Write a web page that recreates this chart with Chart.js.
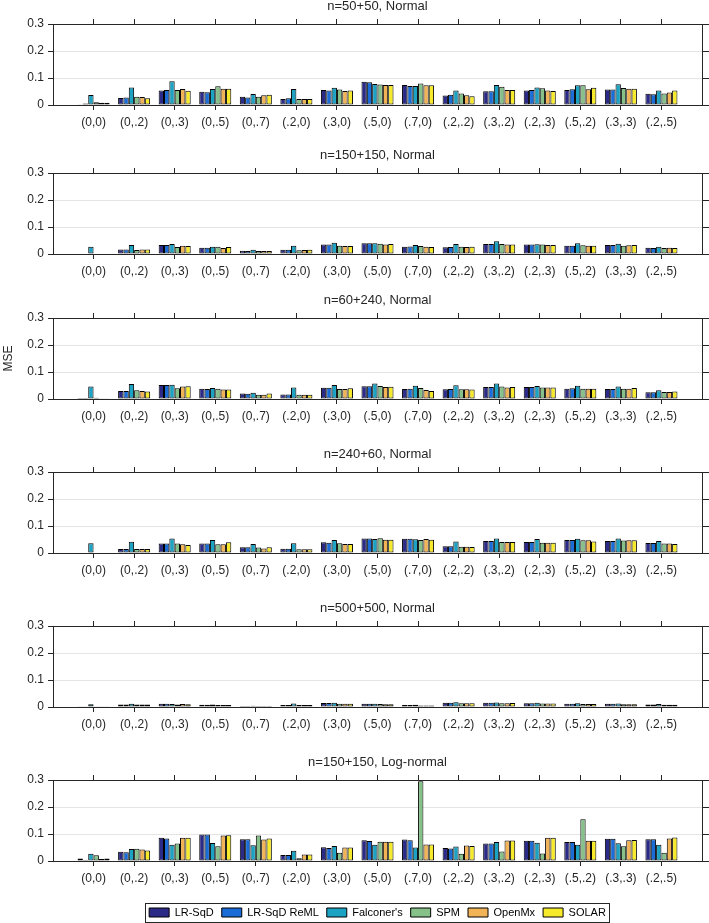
<!DOCTYPE html>
<html>
<head>
<meta charset="utf-8">
<title>MSE</title>
<script src="https://cdn.jsdelivr.net/npm/chart.js@4.4.1/dist/chart.umd.min.js"></script>
<style>
    html, body { margin: 0; padding: 0; background: #fff; width: 709px; height: 923px; overflow: hidden; }
    .panel { position: absolute; left: 0; width: 709px; }
    canvas { display: block; }
</style>
</head>
<body>
<div id="Figura"></div>
<script>

// categorias (h2, c2) y series
const Categories = ['(0,0)', '(0,.2)', '(0,.3)', '(0,.5)', '(0,.7)', '(.2,0)', '(.3,0)', '(.5,0)', '(.7,0)', '(.2,.2)', '(.3,.2)', '(.2,.3)', '(.5,.2)', '(.3,.3)', '(.2,.5)'];
const SeriesNames = ['LR-SqD', 'LR-SqD ReML', "Falconer's", 'SPM', 'OpenMx', 'SOLAR'];
const PanelTitles = ['n=50+50, Normal', 'n=150+150, Normal', 'n=60+240, Normal', 'n=240+60, Normal', 'n=500+500, Normal', 'n=150+150, Log-normal'];
const YTicks = [0, 0.1, 0.2, 0.3];

// MSE, una fila por serie (mismo orden que SeriesNames)
const Mse50x50 = [
    [0.003, 0.026, 0.054, 0.049, 0.031, 0.022, 0.056, 0.086, 0.074, 0.035, 0.051, 0.054, 0.056, 0.057, 0.042],
    [0.006, 0.028, 0.056, 0.047, 0.028, 0.025, 0.054, 0.084, 0.070, 0.038, 0.051, 0.056, 0.058, 0.057, 0.040],
    [0.037, 0.065, 0.088, 0.059, 0.041, 0.059, 0.064, 0.078, 0.070, 0.054, 0.074, 0.065, 0.073, 0.077, 0.054],
    [0.010, 0.031, 0.056, 0.069, 0.031, 0.022, 0.057, 0.076, 0.080, 0.043, 0.068, 0.062, 0.073, 0.063, 0.043],
    [0.008, 0.030, 0.059, 0.060, 0.036, 0.022, 0.052, 0.074, 0.073, 0.036, 0.056, 0.054, 0.058, 0.060, 0.046],
    [0.008, 0.025, 0.053, 0.060, 0.038, 0.022, 0.054, 0.074, 0.073, 0.032, 0.056, 0.052, 0.064, 0.060, 0.054]
];
const Mse150x150 = [
    [0.002, 0.017, 0.033, 0.023, 0.012, 0.016, 0.035, 0.040, 0.027, 0.025, 0.037, 0.035, 0.031, 0.033, 0.023],
    [0.002, 0.017, 0.033, 0.023, 0.011, 0.016, 0.035, 0.040, 0.028, 0.026, 0.037, 0.035, 0.031, 0.033, 0.022],
    [0.027, 0.033, 0.037, 0.027, 0.016, 0.031, 0.042, 0.040, 0.033, 0.037, 0.047, 0.036, 0.040, 0.038, 0.027],
    [0.002, 0.015, 0.026, 0.027, 0.011, 0.014, 0.031, 0.038, 0.030, 0.027, 0.037, 0.035, 0.032, 0.031, 0.022],
    [0.002, 0.017, 0.031, 0.022, 0.011, 0.015, 0.030, 0.035, 0.027, 0.026, 0.035, 0.033, 0.031, 0.032, 0.023],
    [0.002, 0.017, 0.030, 0.026, 0.011, 0.016, 0.030, 0.037, 0.026, 0.027, 0.035, 0.033, 0.031, 0.033, 0.022]
];
const Mse60x240 = [
    [0.004, 0.030, 0.052, 0.038, 0.020, 0.017, 0.042, 0.047, 0.037, 0.036, 0.044, 0.044, 0.038, 0.037, 0.025],
    [0.004, 0.030, 0.052, 0.037, 0.019, 0.017, 0.042, 0.047, 0.038, 0.037, 0.044, 0.044, 0.040, 0.037, 0.025],
    [0.046, 0.056, 0.053, 0.041, 0.023, 0.043, 0.052, 0.057, 0.049, 0.051, 0.057, 0.048, 0.049, 0.046, 0.032],
    [0.005, 0.032, 0.040, 0.038, 0.016, 0.016, 0.037, 0.048, 0.041, 0.036, 0.046, 0.043, 0.038, 0.038, 0.026],
    [0.003, 0.030, 0.046, 0.035, 0.016, 0.016, 0.037, 0.044, 0.033, 0.036, 0.043, 0.043, 0.038, 0.038, 0.026],
    [0.003, 0.028, 0.047, 0.035, 0.020, 0.016, 0.040, 0.045, 0.030, 0.035, 0.044, 0.043, 0.038, 0.041, 0.028]
];
const Mse240x60 = [
    [0.002, 0.015, 0.035, 0.035, 0.021, 0.016, 0.040, 0.054, 0.053, 0.025, 0.044, 0.041, 0.048, 0.044, 0.037],
    [0.002, 0.015, 0.035, 0.035, 0.021, 0.016, 0.038, 0.054, 0.053, 0.025, 0.044, 0.041, 0.048, 0.044, 0.037],
    [0.036, 0.042, 0.054, 0.048, 0.033, 0.036, 0.048, 0.052, 0.051, 0.043, 0.054, 0.052, 0.053, 0.054, 0.044],
    [0.002, 0.015, 0.035, 0.032, 0.020, 0.014, 0.036, 0.055, 0.048, 0.023, 0.041, 0.038, 0.047, 0.046, 0.035],
    [0.002, 0.015, 0.032, 0.032, 0.017, 0.014, 0.033, 0.049, 0.052, 0.023, 0.041, 0.038, 0.047, 0.047, 0.035],
    [0.002, 0.015, 0.030, 0.040, 0.021, 0.014, 0.033, 0.049, 0.049, 0.022, 0.041, 0.038, 0.043, 0.047, 0.033]
];
const Mse500x500 = [
    [0.001, 0.009, 0.012, 0.008, 0.004, 0.007, 0.015, 0.012, 0.007, 0.016, 0.016, 0.014, 0.012, 0.012, 0.009],
    [0.001, 0.009, 0.012, 0.008, 0.004, 0.007, 0.015, 0.012, 0.007, 0.016, 0.016, 0.014, 0.012, 0.012, 0.009],
    [0.010, 0.012, 0.011, 0.009, 0.005, 0.013, 0.016, 0.012, 0.008, 0.018, 0.017, 0.016, 0.014, 0.013, 0.011],
    [0.001, 0.009, 0.009, 0.007, 0.004, 0.007, 0.012, 0.011, 0.006, 0.014, 0.014, 0.013, 0.011, 0.010, 0.008],
    [0.001, 0.009, 0.011, 0.007, 0.004, 0.007, 0.012, 0.010, 0.006, 0.014, 0.014, 0.013, 0.011, 0.010, 0.008],
    [0.001, 0.009, 0.010, 0.007, 0.004, 0.007, 0.012, 0.010, 0.006, 0.014, 0.015, 0.013, 0.011, 0.010, 0.008]
];
const Mse150x150Log = [
    [0.009, 0.034, 0.086, 0.098, 0.081, 0.022, 0.051, 0.077, 0.080, 0.048, 0.065, 0.075, 0.070, 0.082, 0.081],
    [0.004, 0.032, 0.083, 0.098, 0.081, 0.022, 0.048, 0.074, 0.077, 0.046, 0.065, 0.075, 0.070, 0.082, 0.081],
    [0.027, 0.044, 0.060, 0.067, 0.058, 0.038, 0.056, 0.060, 0.050, 0.054, 0.070, 0.068, 0.060, 0.066, 0.060],
    [0.021, 0.045, 0.065, 0.055, 0.094, 0.010, 0.031, 0.071, 0.295, 0.027, 0.035, 0.028, 0.155, 0.055, 0.031],
    [0.007, 0.043, 0.086, 0.094, 0.080, 0.024, 0.050, 0.071, 0.061, 0.057, 0.076, 0.086, 0.075, 0.077, 0.083],
    [0.009, 0.039, 0.086, 0.095, 0.083, 0.024, 0.050, 0.071, 0.061, 0.056, 0.076, 0.086, 0.075, 0.078, 0.087]
];

const PanelData = [Mse50x50, Mse150x150, Mse60x240, Mse240x60, Mse500x500, Mse150x150Log];

// estilos
const Colores = ['#2c2a87', '#1a6cd6', '#1ca3c4', '#86c18a', '#f1b356', '#f6ea2a'];
const Ink = '#262626';
const Fuente = "'Liberation Sans', Arial, Helvetica, sans-serif";
const PanelTops = [24, 173, 318, 472, 626, 780];   // borde superior del area de graficos
const PlotH = 81;

// etiquetas con un hueco vacio a cada lado, como el eje de matlab (0..16)
const Labels = [''].concat(Categories, ['']);
const EsBorde = (ctx) => ctx.index === 0 || ctx.index === Labels.length - 1;

const LegendFrame = {
    id: 'legendFrame',
    afterDraw(chart) {
        const lg = chart.legend;
        if (!lg || !lg.legendHitBoxes || !lg.legendHitBoxes.length) return;
        const hb = lg.legendHitBoxes;
        const l = Math.min(...hb.map(b => b.left)) - 4;
        const r = Math.max(...hb.map(b => b.left + b.width)) + 3;
        const t = Math.min(...hb.map(b => b.top)) - 4;
        const bt = Math.max(...hb.map(b => b.top + b.height)) + 4;
        const ctx = chart.ctx;
        ctx.save();
        ctx.strokeStyle = Ink;
        ctx.lineWidth = 1;
        ctx.strokeRect(Math.round(l) + 0.5, Math.round(t) + 0.5, Math.round(r - l), Math.round(bt - t));
        ctx.restore();
    }
};

const Charts = [];

const InitPanel = (i) => {
    const esUltimo = i === PanelData.length - 1;
    const xH = esUltimo ? 38 : 30;
    const alto = esUltimo ? 172 : 145;
    const legendH = esUltimo ? 29 : 0;
    const padBottom = alto - 24 - PlotH - xH - legendH;

    const div = document.createElement('div');
    div.className = 'panel';
    div.style.top = (PanelTops[i] - 24) + 'px';
    div.style.height = alto + 'px';
    const cv = document.createElement('canvas');
    cv.width = 709;
    cv.height = alto;
    div.appendChild(cv);
    document.getElementById('Figura').appendChild(div);

    const datasets = SeriesNames.map((name, s) => ({
        label: name,
        data: [null].concat(PanelData[i][s], [null]),
        backgroundColor: Colores[s],
        borderColor: '#000',
        borderWidth: 1,
        borderSkipped: false,
        categoryPercentage: 0.79,
        barPercentage: 1
    }));

    const ejeX = (pos) => ({
        type: 'category',
        position: pos,
        offset: false,
        grid: { offset: false, drawOnChartArea: false, drawTicks: true, tickLength: 5, tickColor: (ctx) => EsBorde(ctx) ? 'rgba(0,0,0,0)' : Ink },
        border: { color: Ink, width: 1 },
        ticks: {
            display: pos === 'bottom',
            autoSkip: false, maxRotation: 0, minRotation: 0, padding: 5,
            color: Ink, font: { family: Fuente, size: 12 }
        },
        afterFit: (scale) => { scale.height = pos === 'bottom' ? xH : 6; }
    });

    Charts[i] = new Chart(cv, {
        type: 'bar',
        data: { labels: Labels, datasets: datasets },
        plugins: esUltimo ? [LegendFrame] : [],
        options: {
            responsive: false,
            animation: false,
            events: [],
            layout: { padding: { left: 0, right: 0, top: 0, bottom: padBottom } },
            plugins: {
                tooltip: { enabled: false },
                title: {
                    display: true,
                    text: PanelTitles[i],
                    fullSize: false,
                    color: Ink,
                    font: { family: Fuente, size: 13, weight: 'normal', lineHeight: 1 },
                    padding: { top: 0, bottom: 5 }
                },
                legend: {
                    display: esUltimo,
                    position: 'bottom',
                    fullSize: false,
                    labels: {
                        color: '#000',
                        font: { family: Fuente, size: 11 },
                        boxWidth: 20,
                        boxHeight: 9,
                        padding: 8
                    }
                }
            },
            scales: {
                x: ejeX('bottom'),
                xTop: ejeX('top'),
                y: {
                    min: 0,
                    max: 0.3,
                    position: 'left',
                    ticks: {
                        stepSize: 0.1,
                        padding: 4,
                        color: Ink,
                        font: { family: Fuente, size: 12 },
                        callback: (v) => String(Math.round(v * 10) / 10)
                    },
                    grid: {
                        color: (ctx) => (ctx.index === 1 || ctx.index === 2) ? '#e4e4e4' : 'rgba(0,0,0,0)',
                        tickColor: Ink,
                        tickLength: 5
                    },
                    border: { color: Ink, width: 1 },
                    title: {
                        display: i === 2,
                        text: 'MSE',
                        color: Ink,
                        font: { family: Fuente, size: 12 },
                        padding: { top: 1, bottom: 0 }
                    },
                    afterFit: (scale) => { scale.width = 53; }
                },
                yRight: {
                    min: 0,
                    max: 0.3,
                    position: 'right',
                    ticks: { stepSize: 0.1, display: false },
                    grid: { drawOnChartArea: false, tickColor: Ink, tickLength: 7 },
                    border: { color: Ink, width: 1 },
                    afterFit: (scale) => { scale.width = 7; }
                }
            }
        }
    });
};

PanelData.forEach((d, i) => InitPanel(i));

</script>
</body>
</html>
